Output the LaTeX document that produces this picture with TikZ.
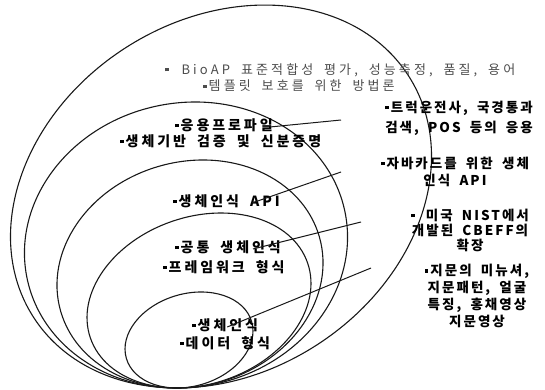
\documentclass[tikz,border=0pt]{standalone}
\usepackage{fontspec}
\newfontfamily\kr[LetterSpace=21,WordSpace=1.8]{Noto Sans CJK KR}
\newfontfamily\krr[LetterSpace=15,WordSpace=1.8]{Noto Sans CJK KR}
\newfontfamily\krt[LetterSpace=24,WordSpace=1.8]{Noto Sans CJK KR}
\newcommand\sqb{\rule[0.22em]{3.5pt}{3.5pt}\hspace{2pt}}
\begin{document}
\begin{tikzpicture}[x=1pt,y=1pt,
  ring/.style={draw=black!90, line width=1.1pt},
  lbl/.style={inner sep=0pt, font=\kr\bfseries\fontsize{14}{17}\selectfont},
  rlbl/.style={inner sep=0pt, font=\krr\bfseries\fontsize{13.5}{17}\selectfont},
  light/.style={inner sep=0pt, font=\krt\fontsize{13}{17}\selectfont, text=black!70},
  conn/.style={draw=black!90, line width=1pt}]
\useasboundingbox (0,0) rectangle (545,389);
% rings
\draw[ring, rotate around={32.8:(221,192.5)}] (221,192.5) ellipse [x radius=223, y radius=176.7];
\draw[ring, rotate around={12.3:(186,144)}] (186,144) ellipse [x radius=162.4, y radius=142];
\draw[ring, rotate around={16.1:(190,115)}] (190,115) ellipse [x radius=134.6, y radius=112.1];
\draw[ring, rotate around={19.1:(199,88.5)}] (199,88.5) ellipse [x radius=114.9, y radius=83.6];
\draw[ring, rotate around={16.4:(189,49)}] (189,49) ellipse [x radius=65.3, y radius=46.2];
% left labels
\node[light, anchor=west] (bioap) at (165,319) {\sqb{} BioAP 표준적합성 평가, 성능측정, 품질, 용어};
\node[light, anchor=west] (tmpl) at (203,303) {\sqb 템플릿 보호를 위한 방법론};
\node[lbl, anchor=west] (app) at (175,264) {\sqb 응용프로파일};
\node[lbl, anchor=west] (bio) at (120,248) {\sqb 생체기반 검증 및 신분증명};
\node[lbl, anchor=west] (api) at (173,188) {\sqb 생체인식 API};
\node[lbl, anchor=west] (common) at (175,142) {\sqb 공통 생체인식};
\node[lbl, anchor=west] (frame) at (163,122) {\sqb 프레임워크 형식};
\node[lbl, anchor=west] (data1) at (192,64) {\sqb 생체인식};
\node[lbl, anchor=west] (data2) at (180,46) {\sqb 데이터 형식};
% right labels
\node[rlbl, anchor=east, align=right, font=\krr\bfseries\fontsize{13.5}{20}\selectfont] (truck) at (533,271) {\sqb 트럭운전사, 국경통과\\검색, POS 등의 응용};
\node[rlbl, align=center] (java) at (455,217.5) {\sqb 자바카드를 위한 생체\\인식 API};
\node[rlbl, align=center, font=\krr\bfseries\fontsize{13.5}{15}\selectfont] (nist) at (470,159) {\sqb{} 미국 NIST에서\\개발된 CBEFF의\\확장};
\node[rlbl, align=center] (finger) at (477,93) {\sqb 지문의 미뉴셔,\\지문패턴, 얼굴\\특징, 홍채영상\\지문영상};
% connectors
\coordinate (e1) at (341,269);
\coordinate (e2) at (341,217);
\coordinate (e3) at (361,167);
\coordinate (e4) at (371,121);
\draw[conn] ([xshift=-3pt,yshift=-2pt]app.east) -- (e1);
\draw[conn] ([xshift=-28pt,yshift=-2pt]api.east) -- (e2);
\draw[conn] ([xshift=-28pt,yshift=-2pt]common.east) -- (e3);
\draw[conn] ([xshift=-31pt,yshift=-2pt]data1.east) -- (e4);
\end{tikzpicture}
\end{document}
